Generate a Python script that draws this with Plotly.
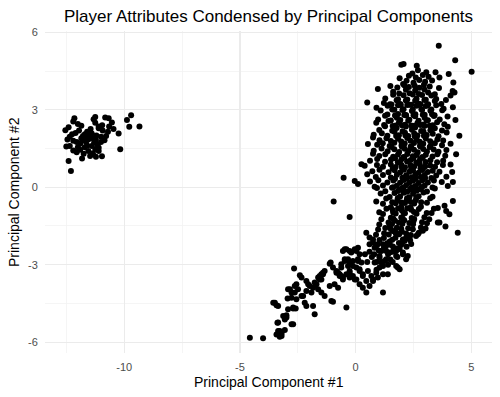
import plotly.graph_objects as go

# (PC1, PC2) pairs, grouped by region
left_cluster = [
    (-12.15,2.67),(-12.20,2.55),(-12.54,2.21),(-12.40,2.32),(-12.35,1.95),(-12.20,1.80),(-12.50,1.58),(-12.35,1.60),
    (-12.05,1.75),(-11.85,1.90),(-11.78,1.98),(-11.63,1.90),(-11.50,1.98),(-11.36,1.90),(-11.22,1.83),(-11.70,1.55),
    (-11.90,1.45),(-12.05,1.35),(-12.20,1.42),(-11.65,1.75),(-11.40,1.60),(-11.25,1.48),(-11.10,1.53),(-11.00,1.75),
    (-10.85,1.82),(-10.78,1.98),(-10.93,2.20),(-11.10,2.35),(-11.25,2.50),(-11.32,2.63),(-11.25,2.72),(-10.82,2.70),
    (-10.67,2.67),(-10.53,2.51),(-10.46,2.25),(-10.24,2.08),(-10.17,1.47),(-9.88,2.60),(-9.70,2.79),(-9.78,2.34),
    (-9.34,2.35),(-11.85,2.38),(-12.00,2.45),(-12.40,1.02),(-12.30,0.63),(-11.82,1.11),(-11.47,1.21),(-11.22,1.18),
    (-10.96,1.20),(-12.10,2.10),(-11.90,1.68),(-11.55,1.40),(-11.35,1.32),(-11.75,1.30),(-11.10,2.28),(-10.95,2.40),
    (-11.60,2.15),(-11.45,2.25),(-11.70,2.05),(-11.95,2.20),(-12.25,2.05),(-11.55,1.85),(-11.40,2.08),(-11.20,2.00),
    (-11.00,1.95),(-11.80,1.82),(-12.00,1.55),(-11.30,1.72),(-10.70,2.15),(-10.65,2.35),(-11.15,1.65),(-12.45,1.85),
    (-11.60,1.62),(-11.10,1.40),
]

right_top = [
    (3.59,5.48),(4.30,4.92),(5.01,4.47),(1.97,4.74),(2.07,4.77),(2.64,4.70),(2.69,4.53),(3.05,4.45),(3.45,4.45),
    (3.62,4.25),(4.02,4.38),(4.22,4.06),(4.19,3.73),(4.27,3.67),(1.90,4.22),(0.96,3.80),(0.50,3.28),
    (2.30,4.32),(2.60,4.25),(2.90,4.35),(3.15,4.28),(2.45,4.40),
    (2.20,4.12),(2.50,4.05),(2.75,4.15),(3.00,4.08),(3.30,4.13),(2.05,4.00),
    (1.50,3.92),(1.80,3.86),(2.10,3.95),(2.30,3.88),(2.55,3.93),(2.75,3.85),(2.95,3.97),(3.20,3.90),(3.60,3.84),(4.10,3.55),
    (1.62,3.70),(1.88,3.63),(2.17,3.77),(2.33,3.64),(2.57,3.75),(2.73,3.61),(2.97,3.78),(3.13,3.67),(3.42,3.60),
    (1.28,3.44),(1.62,3.58),(1.83,3.41),(2.07,3.56),(2.23,3.40),(2.47,3.59),(2.63,3.43),(2.87,3.57),(3.03,3.39),(3.27,3.55),(3.48,3.42),(3.90,3.38),
    (1.22,3.26),(1.48,3.21),(1.77,3.37),(1.93,3.22),(2.17,3.36),(2.33,3.19),(2.57,3.35),(2.73,3.23),(2.97,3.38),(3.13,3.21),(3.42,3.34),(3.70,3.22),
    (0.90,3.08),(1.38,3.16),(1.67,3.00),(1.83,3.17),(2.07,3.02),(2.23,3.18),(2.47,3.01),(2.63,3.16),(2.87,2.99),(3.03,3.15),(3.27,3.01),(3.48,3.17),(3.80,3.04),(4.20,3.10),
    (1.55,3.20),(1.95,3.18),(2.40,3.19),(2.80,3.21),(3.10,3.17),
]

right_middle = [
    (1.08,2.97),(1.37,2.82),(1.58,3.01),(1.83,2.84),(2.02,2.99),(2.17,2.80),(2.43,2.95),(2.58,2.83),(2.84,3.02),(2.98,2.81),(3.23,2.96),(3.41,2.79),(3.74,2.98),
    (0.97,2.62),(1.27,2.77),(1.52,2.58),(1.78,2.69),(1.93,2.60),(2.18,2.78),(2.32,2.61),(2.57,2.75),(2.72,2.57),(2.98,2.69),(3.12,2.59),(3.38,2.76),(3.63,2.62),(3.97,2.74),
    (0.89,2.50),(1.23,2.41),(1.42,2.56),(1.73,2.39),(1.87,2.51),(2.13,2.42),(2.27,2.57),(2.53,2.38),(2.67,2.49),(2.93,2.43),(3.07,2.58),(3.33,2.40),(3.52,2.52),(3.83,2.44),(4.31,2.60),
    (1.02,2.22),(1.27,2.36),(1.58,2.19),(1.77,2.29),(2.03,2.17),(2.17,2.35),(2.43,2.23),(2.57,2.31),(2.83,2.18),(2.97,2.37),(3.23,2.21),(3.42,2.28),(3.73,2.20),(3.98,2.34),
    (0.78,2.03),(1.13,2.09),(1.37,1.99),(1.68,2.15),(1.87,2.01),(2.13,2.11),(2.27,1.98),(2.53,2.08),(2.67,2.00),(2.93,2.16),(3.07,2.02),(3.33,2.07),(3.58,1.97),(3.93,2.12),
    (0.75,1.93),(1.03,1.82),(1.33,1.90),(1.52,1.79),(1.83,1.88),(1.97,1.77),(2.23,1.91),(2.37,1.80),(2.63,1.86),(2.77,1.76),(3.03,1.89),(3.22,1.78),(3.53,1.85),(3.78,1.81),(4.48,1.99),
    (0.53,1.67),(0.93,1.64),(1.17,1.70),(1.47,1.60),(1.67,1.72),(1.98,1.62),(2.12,1.69),(2.38,1.58),(2.52,1.71),(2.78,1.61),(2.92,1.68),(3.23,1.59),(3.42,1.70),(3.73,1.63),(4.10,1.68),
    (0.78,1.41),(1.12,1.50),(1.38,1.39),(1.67,1.47),(1.88,1.36),(2.12,1.49),(2.28,1.40),(2.52,1.45),(2.68,1.35),(2.92,1.48),(3.08,1.38),(3.37,1.46),(3.58,1.37),(3.92,1.44),
    (0.75,1.30),(1.02,1.21),(1.28,1.28),(1.62,1.18),(1.83,1.27),(2.07,1.17),(2.23,1.29),(2.47,1.20),(2.63,1.25),(2.87,1.16),(3.03,1.26),(3.32,1.19),(3.53,1.28),(3.87,1.22),(4.34,1.28),
    (0.62,1.03),(0.93,1.09),(1.27,0.99),(1.53,1.07),(1.82,0.97),(1.98,1.08),(2.22,1.00),(2.38,1.05),(2.62,0.96),(2.78,1.07),(3.02,0.98),(3.23,1.04),(3.52,0.97),(3.78,1.03),
    (0.25,0.89),(0.39,0.83),(0.92,0.86),(1.18,0.79),(1.52,0.88),(1.73,0.78),(1.97,0.87),(2.13,0.77),(2.37,0.85),(2.53,0.80),(2.77,0.89),(2.93,0.76),(3.22,0.84),(3.43,0.79),(3.77,0.86),(4.10,0.88),
    (0.72,0.62),(1.03,0.68),(1.42,0.58),(1.68,0.66),(1.92,0.57),(2.08,0.68),(2.32,0.60),(2.48,0.65),(2.72,0.56),(2.88,0.67),(3.12,0.59),(3.33,0.64),(3.62,0.60),(4.17,0.59),
    (0.50,0.50),(0.87,0.40),(1.18,0.47),(1.52,0.38),(1.78,0.48),(2.02,0.37),(2.18,0.46),(2.42,0.39),(2.58,0.49),(2.82,0.40),(2.98,0.47),(3.27,0.36),(3.48,0.45),(3.92,0.41),(-0.52,0.37),
    (-0.04,0.24),(0.62,0.22),(0.98,0.27),(1.37,0.18),(1.63,0.26),(1.92,0.17),(2.08,0.28),(2.32,0.19),(2.48,0.25),(2.72,0.16),(2.88,0.27),(3.12,0.18),(3.38,0.26),(3.72,0.20),(4.20,0.20),
    (0.10,0.12),(0.82,0.02),(1.18,0.07),(1.57,-0.02),(1.78,0.06),(2.02,-0.03),(2.18,0.08),(2.42,0.00),(2.58,0.05),(2.82,-0.04),(2.98,0.07),(3.32,-0.01),(3.98,0.05),
    (1.70,2.78),(2.10,2.80),(2.50,2.79),(2.90,2.81),(3.30,2.83),(1.60,2.37),(2.00,2.40),(2.40,2.39),(2.80,2.41),(3.20,2.38),
    (1.75,1.98),(2.15,2.00),(2.55,1.97),(2.95,1.99),(1.55,1.56),(2.00,1.57),(2.40,1.55),(2.80,1.58),(3.20,1.56),
    (1.70,1.12),(2.10,1.15),(2.50,1.13),(2.90,1.16),(1.60,0.72),(2.00,0.75),(2.40,0.74),(2.80,0.73),(3.00,0.80),
    (1.70,0.33),(2.20,0.35),(2.60,0.34),(3.00,0.36),
]

right_stem = [
    (0.92,-0.03),(1.28,-0.16),(1.62,0.00),(1.83,-0.15),(2.07,-0.02),(2.23,-0.18),(2.47,-0.04),(2.63,-0.14),(2.87,0.01),(3.08,-0.17),(3.42,-0.05),
    (1.08,-0.24),(1.47,-0.38),(1.68,-0.22),(1.92,-0.36),(2.08,-0.21),(2.32,-0.39),(2.48,-0.25),(2.72,-0.35),(2.93,-0.20),(3.32,-0.37),
    (0.89,-0.55),(1.32,-0.44),(1.58,-0.58),(1.82,-0.42),(1.98,-0.59),(2.22,-0.43),(2.38,-0.57),(2.62,-0.41),(2.83,-0.58),(3.22,-0.43),(4.20,-0.53),(-0.95,-0.55),
    (1.18,-0.64),(1.52,-0.78),(1.73,-0.62),(1.97,-0.77),(2.13,-0.61),(2.37,-0.79),(2.53,-0.63),(2.82,-0.76),(3.08,-0.60),(3.55,-0.80),(3.84,-0.72),
    (1.02,-0.97),(1.33,-0.83),(1.62,-0.98),(1.83,-0.82),(2.07,-0.99),(2.23,-0.81),(2.52,-0.96),(2.73,-0.84),(3.07,-1.00),(3.38,-0.83),(3.91,-0.92),
    (1.18,-1.04),(1.52,-1.18),(1.73,-1.02),(1.97,-1.17),(2.13,-1.01),(2.42,-1.19),(2.63,-1.03),(2.97,-1.16),(3.28,-1.00),(4.05,-1.05),(-0.26,-1.15),
    (1.11,-1.24),(1.42,-1.37),(1.63,-1.22),(1.87,-1.38),(2.03,-1.21),(2.32,-1.39),(2.53,-1.23),(2.87,-1.36),(3.18,-1.24),(3.55,-1.37),
    (1.02,-1.44),(1.28,-1.58),(1.57,-1.42),(1.78,-1.57),(2.02,-1.41),(2.27,-1.59),(2.48,-1.43),(2.82,-1.56),(3.08,-1.40),(3.62,-1.37),(3.88,-1.52),
    (0.46,-1.76),(0.97,-1.64),(1.23,-1.78),(1.52,-1.62),(1.73,-1.77),(1.97,-1.61),(2.18,-1.79),(2.47,-1.63),(2.73,-1.76),(3.02,-1.60),(4.41,-1.76),
    (0.60,-1.95),(0.88,-1.84),(1.22,-1.97),(1.43,-1.83),(1.72,-1.96),(1.88,-1.82),(2.17,-1.98),(2.38,-1.85),(2.69,-1.82),(2.33,-1.93),(2.90,-1.69),(2.61,-1.89),
    (0.75,-2.14),(1.03,-2.04),(1.37,-2.17),(1.58,-2.03),(1.87,-2.16),(2.11,-2.08),(2.35,-2.05),(1.47,-2.10),(2.04,-2.02),
    (0.89,-2.28),(1.22,-2.36),(1.48,-2.23),(1.77,-2.37),(1.95,-2.24),(2.20,-2.31),(0.96,-2.21),(1.61,-2.30),(1.90,-2.39),
    (1.90,-0.10),(2.35,-0.09),(2.75,-0.08),(1.80,-0.50),(2.20,-0.52),(2.60,-0.50),(1.60,-0.88),(2.00,-0.90),(2.40,-0.87),
    (1.70,-1.30),(2.10,-1.28),(2.50,-1.31),(1.60,-1.70),(2.00,-1.72),
]

right_tail = [
    (0.82,-2.34),(1.11,-2.47),(1.03,-2.73),(1.25,-2.86),(1.18,-3.05),(1.75,-2.47),(2.04,-2.60),(2.18,-2.79),(2.25,-2.66),
    (1.75,-3.05),(1.82,-3.11),(0.60,-2.50),(0.80,-2.60),(1.40,-2.60),(1.50,-2.80),(1.60,-2.90),(1.40,-3.00),(0.90,-2.90),
    (0.70,-2.70),(1.30,-2.30),(2.00,-2.20),(1.80,-2.70),(1.60,-2.50),(0.40,-2.60),(0.50,-2.90),(0.90,-3.20),(1.00,-2.45),
    (2.40,-2.20),(1.32,-2.47),(1.03,-2.66),(0.82,-2.92),(1.11,-2.92),(1.32,-2.79),(1.47,-2.53),(1.75,-2.66),(2.04,-2.53),
    (1.90,-3.18),(0.60,-2.21),(0.75,-2.02),(1.18,-2.21),(1.75,-1.76),(1.47,-1.50),
    (-0.47,-2.40),(-0.26,-2.47),(-0.04,-2.40),(0.10,-2.34),(-0.33,-2.79),(-0.12,-2.86),(0.10,-2.79),(0.25,-2.92),
    (0.03,-3.11),(0.17,-3.24),(0.31,-3.37),(0.53,-3.24),(0.68,-3.44),(0.75,-3.63),(0.96,-3.50),(1.18,-3.37),(1.39,-3.37),
    (1.18,-4.08),(-0.55,-2.47),(-0.40,-2.40),(-0.19,-2.53),(0.03,-2.47),(0.17,-2.60),(0.10,-2.86),(0.17,-3.18),
    (0.31,-3.44),(0.46,-3.63),(0.60,-3.83),(0.75,-3.57),(0.89,-3.31),(1.03,-3.11),(0.46,-4.08),(0.17,-3.76),(0.31,-3.89),
    (-1.12,-2.96),(-0.83,-3.24),(-0.69,-3.37),(-0.55,-3.50),(-0.62,-3.11),(-0.33,-3.05),(-0.26,-3.31),(-0.12,-3.44),
    (0.03,-3.57),(-0.62,-2.98),(-0.47,-2.86),(-0.26,-2.92),(-0.12,-3.05),(-0.76,-3.31),(-0.62,-3.44),(-0.40,-3.37),
    (-0.26,-3.50),(-0.04,-3.57),(-0.40,-4.66),(-0.98,-3.11),(-0.83,-3.31),(-0.69,-3.44),(-0.55,-3.57),(-0.47,-2.79),
    (-0.26,-3.24),(-1.12,-3.83),(-0.91,-3.76),(-0.76,-3.89),(-1.05,-4.41),(-0.98,-4.44),(-1.08,-2.92),
    (-2.66,-3.15),(-2.41,-3.41),(-2.34,-3.50),(-2.13,-3.63),(-2.05,-3.76),(-2.56,-3.76),(-2.49,-3.95),(-2.63,-4.08),
    (-2.34,-4.21),(-2.13,-4.02),(-1.98,-3.83),(-1.84,-3.89),(-1.69,-3.76),(-1.48,-3.57),(-1.41,-3.31),(-1.55,-3.44),
    (-2.92,-3.95),(-2.77,-4.08),(-2.63,-3.83),(-2.20,-4.47),(-2.13,-4.60),(-1.84,-4.60),(-1.77,-4.92),(-1.91,-4.08),
    (-1.62,-3.95),(-1.48,-4.08),(-1.34,-4.21),(-1.34,-3.24),(-2.84,-3.95),(-2.77,-4.28),(-2.56,-4.34),(-2.27,-4.21),
    (-1.77,-3.69),(-1.62,-3.50),(-1.48,-3.37),(-1.55,-3.57),(-1.41,-3.37),
    (-4.57,-5.83),(-4.00,-5.85),(-3.35,-5.57),(-3.20,-5.66),(-3.28,-5.79),(-3.06,-5.53),(-3.38,-5.25),(-3.06,-5.12),
    (-2.99,-4.96),(-2.70,-5.31),(-2.92,-4.73),(-2.70,-4.70),(-2.59,-4.70),(-3.56,-4.47),(-3.42,-4.57),(-2.94,-4.31),
    (-3.49,-4.47),(-3.35,-4.60),(-2.70,-4.66),(-3.13,-4.99),(-2.99,-5.05),(-3.35,-5.24),(-2.77,-5.31),(-3.28,-5.57),
    (-3.20,-5.76),(-3.42,-5.70),
]

x_ticks = [-10, -5, 0, 5]
x_tick_labels = ["-10", "-5", "0", "5"]
y_ticks = [-6, -3, 0, 3, 6]
y_tick_labels = ["-6", "-3", "0", "3", "6"]

points = left_cluster + right_top + right_middle + right_stem + right_tail
pc1 = [p[0] for p in points]
pc2 = [p[1] for p in points]

FONT = "Liberation Sans, Arial, Helvetica, sans-serif"
GRID = "#EBEBEB"

fig = go.Figure(go.Scatter(
    x=pc1, y=pc2, mode="markers",
    marker=dict(color="black", size=6, line=dict(width=0)),
    hoverinfo="skip",
))

fig.update_layout(
    width=500, height=397,
    margin=dict(l=45, r=8, t=31, b=44, autoexpand=False),
    paper_bgcolor="white", plot_bgcolor="white",
    showlegend=False,
    font=dict(family=FONT, color="black"),
    title=dict(text="Player Attributes Condensed by Principal Components",
               x=0.5, xref="paper", xanchor="center",
               y=1 - 16 / 397, yref="container", yanchor="middle",
               font=dict(size=17, color="black", family=FONT)),
    annotations=[
        dict(text="Principal Component #1", xref="paper", yref="paper",
             x=0.5, y=-(381.5 - 353) / 322, xanchor="center", yanchor="middle",
             showarrow=False, font=dict(size=14, color="black", family=FONT)),
        dict(text="Principal Component #2", xref="paper", yref="paper",
             x=(14 - 45) / 447, y=0.5, xanchor="center", yanchor="middle",
             textangle=-90, showarrow=False,
             font=dict(size=14, color="black", family=FONT)),
    ],
)

fig.update_xaxes(
    automargin=False,
    range=[-13.42, 5.89], tickvals=x_ticks, ticktext=x_tick_labels,
    showgrid=True, gridcolor=GRID, gridwidth=1.3, zeroline=False, showline=False,
    ticks="outside", ticklen=4, tickcolor="rgba(0,0,0,0)",
    tickfont=dict(size=11, color="#4D4D4D", family=FONT),
    minor=dict(tickvals=[-12.5, -7.5, -2.5, 2.5], showgrid=True, gridcolor="#F2F2F2", gridwidth=0.8),
)
fig.update_yaxes(
    automargin=False,
    range=[-6.42, 6.05], tickvals=y_ticks, ticktext=y_tick_labels,
    showgrid=True, gridcolor=GRID, gridwidth=1.3, zeroline=False, showline=False,
    ticks="outside", ticklen=4, tickcolor="rgba(0,0,0,0)",
    tickfont=dict(size=11, color="#4D4D4D", family=FONT),
    minor=dict(tickvals=[-4.5, -1.5, 1.5, 4.5], showgrid=True, gridcolor="#F2F2F2", gridwidth=0.8),
)

fig.write_html(
    "out.html",
    config={"displayModeBar": False, "staticPlot": True},
    post_script="document.body.style.margin='0';document.body.style.overflow='hidden';",
)
